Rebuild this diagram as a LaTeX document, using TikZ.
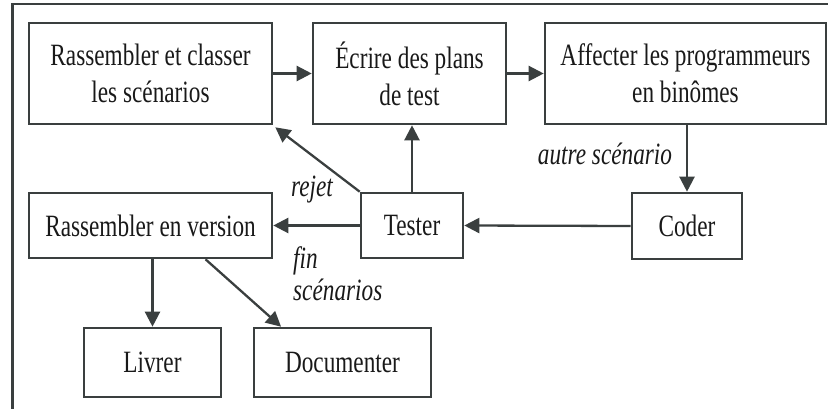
\documentclass[tikz,border=0pt]{standalone}
\usepackage{fontspec}
\setmainfont{Liberation Serif}[FakeStretch=0.75]
\usetikzlibrary{arrows.meta,calc}
\definecolor{ink}{HTML}{3A3F3F}
\begin{document}
\begin{tikzpicture}[x=1pt,y=-1pt,
  every node/.style={font=\fontsize{31}{37}\selectfont, text=black!90},
  stepbox/.style={draw=ink, line width=2.6pt, align=center, inner sep=0pt},
  flow/.style={draw=ink, line width=2.3pt, -{Triangle[length=15pt,width=15pt]}},
  cond/.style={font=\fontsize{31}{32}\selectfont\itshape, align=left, inner sep=0pt}]
  \useasboundingbox (0,0) rectangle (828,409);
  % outer frame (runs past the right and bottom edges)
  \draw[ink, line width=2.2pt] (12.5,415) -- (12.5,4) -- (835,4);

  % steps
  \node[stepbox, minimum width=243pt, minimum height=101pt] (collect) at (150.5,73.5) {Rassembler et classer\\les scénarios};
  \node[stepbox, minimum width=193pt, minimum height=101pt] (plans) at (409.5,73.5) {Écrire des plans\\de test};
  \node[stepbox, minimum width=281pt, minimum height=101pt] (pairs) at (685.5,73.5) {Affecter les programmeurs\\en binômes};
  \node[stepbox, minimum width=243pt, minimum height=65pt] (release) at (150.5,225.5) {Rassembler en version};
  \node[stepbox, minimum width=102pt, minimum height=65pt] (test) at (412,225.5) {Tester};
  \node[stepbox, minimum width=110pt, minimum height=66pt] (code) at (687,226) {Coder};
  \node[stepbox, minimum width=137pt, minimum height=69pt] (deliver) at (152.5,362.5) {Livrer};
  \node[stepbox, minimum width=177pt, minimum height=69pt] (doc) at (342.5,362.5) {Documenter};

  % connectors
  \draw[flow] (collect.east) -- (plans.west);
  \draw[flow] (plans.east) -- (pairs.west);
  \draw[flow] (pairs.south -| code.north) -- (code.north);
  \draw[flow] (code.west) -- (test.east);
  \draw[flow] (test.west) -- (release.east);
  \draw[flow] (test.north) -- (test.north |- plans.south);
  \draw[flow] (test.north west) -- ($(collect.south east)+(2,2)$);
  \draw[flow] (release.south -| deliver.north) -- (deliver.north);
  \coordinate (relfoot) at ($(release.south west)!0.724!(release.south east)$);
  \coordinate (dochead) at ($(doc.north west)!0.158!(doc.north east)$);
  \draw[flow] (relfoot) -- (dochead);

  % conditions
  \node[cond] (rejet) at (312,190) {rejet};
  \node[cond, anchor=north west] (fin) at (293,246) {fin\\scénarios};
  \node[cond] (autre) at (605,154) {autre scénario};
\end{tikzpicture}
\end{document}
